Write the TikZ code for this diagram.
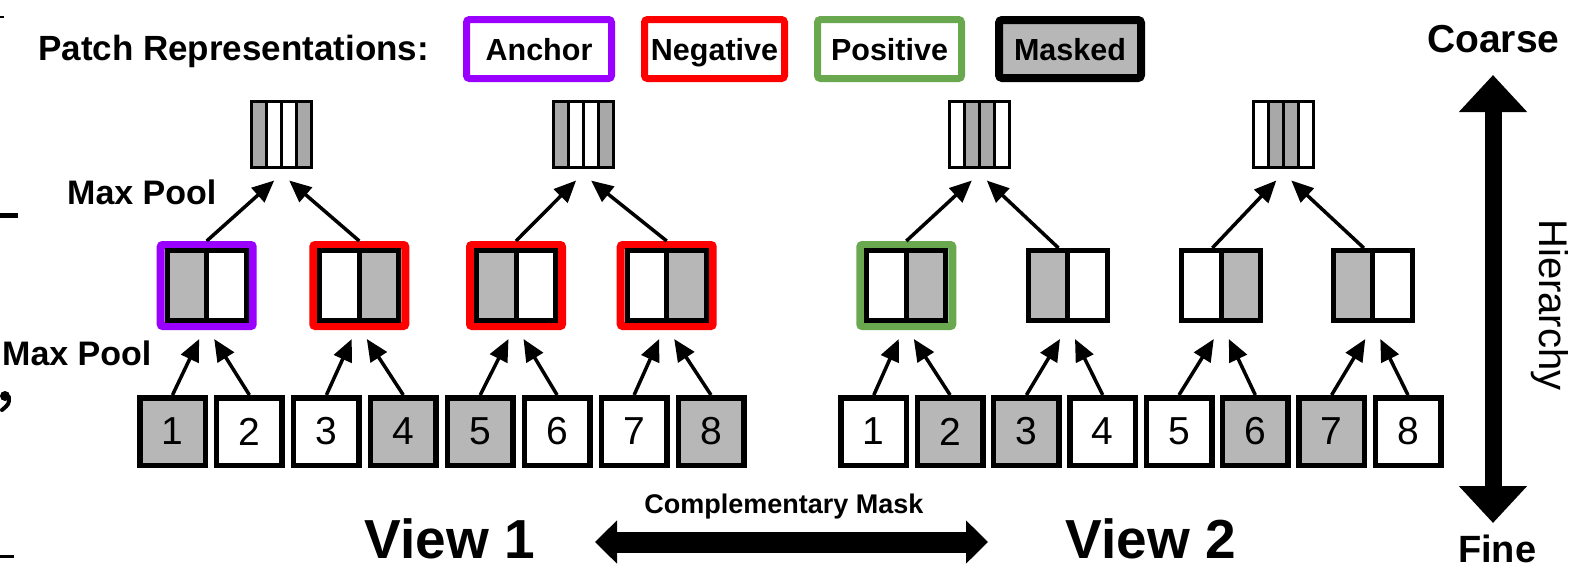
\documentclass[tikz,border=0pt]{standalone}
\usepackage{fontspec}
\setmainfont{Liberation Sans}
\usetikzlibrary{arrows.meta,calc}
\definecolor{gr}{HTML}{B7B7B7}
\definecolor{grd}{HTML}{A8A8A8}
\definecolor{vio}{HTML}{9900FF}
\definecolor{rd}{HTML}{FF0000}
\definecolor{gn}{HTML}{6AA84F}
\begin{document}
\begin{tikzpicture}[x=1pt,y=-1pt,
  lbl/.style={font=\bfseries\fontsize{#1}{#1}\selectfont, inner sep=0pt},
  leg/.style={draw, line width=7pt, rounded corners=3pt, minimum height=59pt,
    text height=22pt, text depth=0pt, inner sep=0pt,
    font=\bfseries\fontsize{30.5}{30.5}\selectfont},
  patch/.style={draw, line width=5.5pt, minimum width=65.5pt, minimum height=67.5pt,
    inner sep=0pt, font=\fontsize{39}{39}\selectfont},
  patchg/.style={patch, fill=gr},
  ringbox/.style={draw=#1, line width=8pt, rounded corners=2pt,
    minimum width=92pt, minimum height=81pt, inner sep=0pt},
  midbox/.style={draw, line width=5pt, minimum width=79pt, minimum height=70pt, inner sep=0pt,
    path picture={
      \fill[gr] (path picture bounding box.south #1) rectangle (path picture bounding box.north);
      \draw[line width=5pt] (path picture bounding box.south) -- (path picture bounding box.north);}},
  topbox/.style={draw, line width=3pt, minimum width=60pt, minimum height=66pt, inner sep=0pt,
    path picture={
      \foreach \k in {#1} {
        \fill[grd] let \p1=(path picture bounding box.south west),
                       \p2=(path picture bounding box.north east) in
          ({\x1+\k*(\x2-\x1)/4},\y1) rectangle ({\x1+(\k+1)*(\x2-\x1)/4},\y2);}
      \foreach \k in {1,2,3} {
        \draw[line width=3pt] let \p1=(path picture bounding box.south west),
                       \p2=(path picture bounding box.north east) in
          ({\x1+\k*(\x2-\x1)/4},\y1) -- ({\x1+\k*(\x2-\x1)/4},\y2);}
    }},
  arr/.style={line width=3.5pt, -{Triangle[length=22pt,width=19pt]}},
  bigarr/.style n args={3}{line width=#1, {Triangle[length=#2,width=#3]}-{Triangle[length=#2,width=#3]}}
]
\useasboundingbox (0,0) rectangle (1588,568);

% edge marks
\draw[line width=1.5pt] (0,17) -- (4,17);
\draw[line width=5pt] (0,215) -- (18,215);
\fill (5,396) circle (5pt);
\draw[line width=4pt, line cap=round] (9,397) .. controls (9,404) .. (2,410);
\draw[line width=3pt] (0,556) -- (14,556);

% legend
\node[lbl=35, anchor=base west] (title) at (38,60) {Patch Representations:};
\node[leg, draw=vio, minimum width=145pt] (lanc) at (539,49) {Anchor};
\node[leg, draw=rd, minimum width=140pt] (lneg) at (714.5,49) {Negative};
\node[leg, draw=gn, minimum width=144pt] (lpos) at (889.5,49) {Positive};
\node[leg, draw=black, fill=gr, line width=8pt, minimum width=142pt, minimum height=58pt] (lmsk) at (1070,49) {Masked};

% labels
\node[lbl=34, anchor=base west] (mp1) at (67,204) {Max Pool};
\node[lbl=34, anchor=base west] (mp2) at (2,365) {Max Pool};
\node[lbl=39, anchor=base west] (coarse) at (1427,52) {Coarse};
\node[lbl=38, anchor=base west] (fine) at (1458,562) {Fine};
\node[font=\fontsize{40}{40}\selectfont, inner sep=0pt, rotate=-90] (hier) at (1550,305) {Hierarchy};
\node[lbl=55, anchor=base] (v1) at (450,558) {View 1};
\node[lbl=55, anchor=base] (v2) at (1151,558) {View 2};
\node[lbl=27, anchor=base] (cm) at (784,513) {Complementary Mask};

% big arrows
\coordinate (hl) at (595,542);
\coordinate (hr) at (988,542);
\draw[bigarr={21pt}{22pt}{42pt}] (hl) -- (hr);
\coordinate (vt) at (1493,75);
\coordinate (vb) at (1493,523);
\draw[bigarr={17pt}{37pt}{66pt}] (vb) -- (vt);

% bottom patches view 1
\node[patchg] (a1) at (172.5,431.5) {1};
\node[patch]  (a2) at (249.4,431.5) {2};
\node[patch]  (a3) at (326.4,431.5) {3};
\node[patchg] (a4) at (403.3,431.5) {4};
\node[patchg] (a5) at (480.2,431.5) {5};
\node[patch]  (a6) at (557.1,431.5) {6};
\node[patch]  (a7) at (634.1,431.5) {7};
\node[patchg] (a8) at (711,431.5) {8};
% bottom patches view 2
\node[patch]  (b1) at (873.8,431.5) {1};
\node[patchg] (b2) at (950.1,431.5) {2};
\node[patchg] (b3) at (1026.4,431.5) {3};
\node[patch]  (b4) at (1102.7,431.5) {4};
\node[patch]  (b5) at (1179,431.5) {5};
\node[patchg] (b6) at (1255.3,431.5) {6};
\node[patchg] (b7) at (1331.6,431.5) {7};
\node[patch]  (b8) at (1408,431.5) {8};

% middle level view 1
\node[ringbox=vio] (ra1) at (206.7,285.5) {};
\node[ringbox=rd]  (ra2) at (359.3,285.5) {};
\node[ringbox=rd]  (ra3) at (516,285.5) {};
\node[ringbox=rd]  (ra4) at (666.7,285.5) {};
\node[midbox=west] (ma1) at (206.7,285.5) {};
\node[midbox=east] (ma2) at (359.3,285.5) {};
\node[midbox=west] (ma3) at (516,285.5) {};
\node[midbox=east] (ma4) at (666.7,285.5) {};
% middle level view 2
\node[ringbox=gn] (rb1) at (906.3,285.5) {};
\node[midbox=east] (mb1) at (906.3,285.5) {};
\node[midbox=west] (mb2) at (1067.5,285.5) {};
\node[midbox=east] (mb3) at (1221.3,285.5) {};
\node[midbox=west] (mb4) at (1372.8,285.5) {};

% top level
\node[topbox={0,3}] (ta1) at (281.7,134.5) {};
\node[topbox={0,3}] (ta2) at (583.6,134.5) {};
\node[topbox={1,2}] (tb1) at (979.3,134.5) {};
\node[topbox={1,2}] (tb2) at (1283.8,134.5) {};

% arrows bottom -> middle
\foreach \m/\l/\r in {ma1/a1/a2, ma2/a3/a4, ma3/a5/a6, ma4/a7/a8,
                      mb1/b1/b2, mb2/b3/b4, mb3/b5/b6, mb4/b7/b8} {
  \draw[arr] (\l.north) -- ($(\m)+(-7.5,53.5)$);
  \draw[arr] (\r.north) -- ($(\m)+(7.5,53.5)$);
}
% arrows middle -> top
\draw[arr] (ra1.north) -- ($(ta1)+(-7.5,46)$);
\draw[arr] (ra2.north) -- ($(ta1)+(7.5,46)$);
\draw[arr] (ra3.north) -- ($(ta2)+(-7.5,46)$);
\draw[arr] (ra4.north) -- ($(ta2)+(7.5,46)$);
\draw[arr] (rb1.north) -- ($(tb1)+(-7.5,46)$);
\draw[arr] ($(mb2.north)+(-9,0)$) -- ($(tb1)+(7.5,46)$);
\draw[arr] ($(mb3.north)+(-9,0)$) -- ($(tb2)+(-7.5,46)$);
\draw[arr] ($(mb4.north)+(-9,0)$) -- ($(tb2)+(7.5,46)$);
\end{tikzpicture}
\end{document}
